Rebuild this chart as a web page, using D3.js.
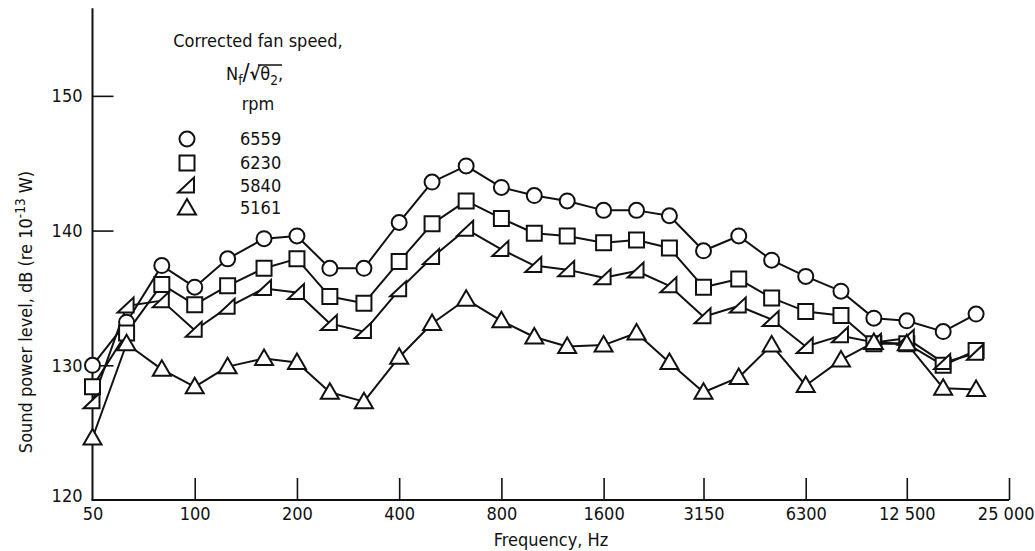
<!DOCTYPE html>
<html>
<head>
<meta charset="utf-8">
<script src="https://cdn.jsdelivr.net/npm/d3@7"></script>
<style>
  html, body { margin: 0; padding: 0; background: #fff; }
  svg { display: block; }
  text { font-family: "Liberation Sans Narrow", "DejaVu Sans Condensed", "Arial Narrow", sans-serif; fill: #111; }
</style>
</head>
<body>
<svg id="chart" width="1035" height="551"></svg>
<script>
// One-third-octave band centre frequencies, Hz
const frequencies = [50, 63, 80, 100, 125, 160, 200, 250, 315, 400, 500, 630, 800, 1000, 1250,
  1600, 2000, 2500, 3150, 4000, 5000, 6300, 8000, 10000, 12500, 16000, 20000];

// Sound power level, dB re 1e-13 W, per corrected fan speed (rpm)
const level6559 = [130.0, 133.2, 137.4, 135.8, 137.9, 139.4, 139.6, 137.2, 137.2, 140.6, 143.6, 144.8, 143.2, 142.6, 142.2,
  141.5, 141.5, 141.1, 138.5, 139.6, 137.8, 136.6, 135.5, 133.5, 133.3, 132.5, 133.8];
const level6230 = [128.4, 132.4, 136.0, 134.5, 135.9, 137.2, 137.9, 135.1, 134.6, 137.7, 140.5, 142.2, 140.9, 139.8, 139.6,
  139.1, 139.3, 138.7, 135.8, 136.4, 135.0, 134.0, 133.7, 131.6, 131.6, 130.0, 131.1];
const level5840 = [127.3, 134.4, 134.8, 132.6, 134.3, 135.7, 135.4, 133.1, 132.5, 135.6, 138.0, 140.1, 138.6, 137.4, 137.1,
  136.5, 137.0, 135.9, 133.6, 134.4, 133.4, 131.4, 132.2, 131.7, 132.0, 130.2, 130.9];
const level5161 = [124.6, 131.6, 129.7, 128.4, 129.9, 130.5, 130.2, 128.0, 127.3, 130.6, 133.1, 134.9, 133.3, 132.1, 131.4,
  131.5, 132.4, 130.2, 128.0, 129.1, 131.5, 128.5, 130.4, 131.7, 131.6, 128.3, 128.2];

const speedLabels = ["6559", "6230", "5840", "5161"];
const markerKinds = ["circle", "square", "halfTriangle", "triangle"];

const xTickValues = [50, 100, 200, 400, 800, 1600, 3150, 6300, 12500, 25000];
const xTickLabels = ["50", "100", "200", "400", "800", "1600", "3150", "6300", "12 500", "25 000"];
const yTickValues = [120, 130, 140, 150];

const series = [level6559, level6230, level5840, level5161].map((vals, i) => ({
  label: speedLabels[i],
  kind: markerKinds[i],
  points: vals.map((v, j) => ({ f: frequencies[j], v }))
}));

const svg = d3.select("#chart");
const FS = 18;

const x = d3.scaleLog().domain([50, 25000]).range([92.5, 1009]);
const y = d3.scaleLinear().domain([120, 156.5]).range([500, 8.3]);

// marker path generator, centred on (0,0)
function markerPath(kind) {
  const p = d3.path();
  if (kind === "circle") {
    p.moveTo(7.5, 0); p.arc(0, 0, 7.5, 0, 2 * Math.PI);
  } else if (kind === "square") {
    p.rect(-7.5, -7.5, 15, 15);
  } else if (kind === "triangle") {
    p.moveTo(0, -9); p.lineTo(9, 6.5); p.lineTo(-9, 6.5); p.closePath();
  } else {
    p.moveTo(7, -8.5); p.lineTo(7, 6.5); p.lineTo(-9, 6.5); p.closePath();
  }
  return p.toString();
}

// axes lines
svg.append("line").attr("x1", x(50)).attr("x2", x(50)).attr("y1", y.range()[1]).attr("y2", y(120))
  .attr("stroke", "#111").attr("stroke-width", 2);
svg.append("line").attr("x1", x(50) - 1).attr("x2", x(25000)).attr("y1", y(120)).attr("y2", y(120))
  .attr("stroke", "#111").attr("stroke-width", 2);

// x axis ticks pointing up into the plot
const xAxis = d3.axisBottom(x)
  .tickValues(xTickValues)
  .tickFormat((d, i) => xTickLabels[i])
  .tickSizeInner(-22).tickSizeOuter(0).tickPadding(7);
const gx = svg.append("g").attr("transform", `translate(0,${y(120)})`).call(xAxis);
gx.select(".domain").remove();
gx.selectAll(".tick line").attr("stroke", "#111").attr("stroke-width", 1.6);
gx.selectAll(".tick text").attr("font-size", FS).attr("font-family", null).attr("fill", "#111");
gx.selectAll(".tick").filter(d => d === 50).select("line").remove();
// keep the last label inside the drawing
gx.selectAll(".tick").filter(d => d === 25000).select("text")
  .attr("text-anchor", "end").attr("x", 25);

// y axis ticks pointing right into the plot
const yAxis = d3.axisLeft(y)
  .tickValues(yTickValues)
  .tickFormat(d3.format("d"))
  .tickSizeInner(-21).tickSizeOuter(0).tickPadding(10);
const gy = svg.append("g").attr("transform", `translate(${x(50)},0)`).call(yAxis);
gy.select(".domain").remove();
gy.selectAll(".tick line").attr("stroke", "#111").attr("stroke-width", 1.6);
gy.selectAll(".tick").filter(d => d === 120).select("line").remove();
gy.selectAll(".tick text").attr("font-size", FS).attr("font-family", null).attr("fill", "#111");
gy.selectAll(".tick").filter(d => d === 120).select("text").attr("dy", "0.1em");

// axis titles
svg.append("text").attr("x", 551).attr("y", 546).attr("text-anchor", "middle")
  .attr("font-size", FS).text("Frequency,  Hz");

const yt = svg.append("text").attr("transform", "translate(32,312) rotate(-90)")
  .attr("text-anchor", "middle").attr("font-size", FS);
yt.append("tspan").text("Sound power level, dB (re 10");
yt.append("tspan").attr("dy", -7).attr("font-size", FS * 0.75).text("-13");
yt.append("tspan").attr("dy", 7).text(" W)");

// series lines and markers
const line = d3.line().x(d => x(d.f)).y(d => y(d.v));
const plot = svg.append("g");
series.forEach(s => {
  plot.append("path").datum(s.points).attr("d", line)
    .attr("fill", "none").attr("stroke", "#111").attr("stroke-width", 2).attr("stroke-linejoin", "round");
});
series.forEach(s => {
  plot.append("g").selectAll("path").data(s.points).join("path")
    .attr("transform", d => `translate(${x(d.f)},${y(d.v)})`)
    .attr("d", markerPath(s.kind))
    .attr("fill", "#fff").attr("stroke", "#111").attr("stroke-width", 2);
});

// legend
const lg = svg.append("g");
lg.append("text").attr("x", 258).attr("y", 47).attr("text-anchor", "middle").attr("font-size", FS)
  .text("Corrected fan speed,");
const f = lg.append("text").attr("x", 226).attr("y", 80).attr("font-size", FS);
f.append("tspan").text("N");
f.append("tspan").attr("dy", 5).attr("font-size", FS * 0.75).text("f");
f.append("tspan").attr("dy", -5).attr("font-size", FS * 1.3).text("/");
f.append("tspan").attr("font-weight", "bold").text("√");
f.append("tspan").text("θ");
f.append("tspan").attr("dy", 5).attr("font-size", FS * 0.75).text("2");
f.append("tspan").attr("dy", -5).text(",");
lg.append("line").attr("x1", 258).attr("x2", 282).attr("y1", 65).attr("y2", 65)
  .attr("stroke", "#111").attr("stroke-width", 1.5);
lg.append("text").attr("x", 258).attr("y", 110).attr("text-anchor", "middle").attr("font-size", FS)
  .text("rpm");

const legendRows = [139, 163, 186, 208];
series.forEach((s, i) => {
  lg.append("path").attr("transform", `translate(187,${legendRows[i]})`)
    .attr("d", markerPath(s.kind)).attr("fill", "#fff").attr("stroke", "#111").attr("stroke-width", 2);
  lg.append("text").attr("x", 240).attr("y", legendRows[i] + 6).attr("font-size", FS).text(s.label);
});
</script>
</body>
</html>
